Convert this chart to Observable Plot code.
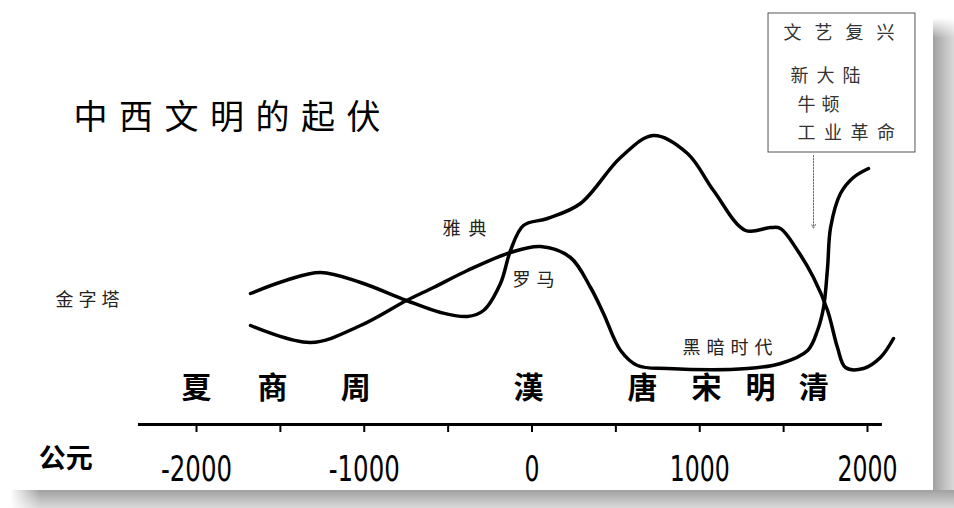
<!DOCTYPE html>
<html>
<head>
<meta charset="utf-8">
<script src="https://cdn.jsdelivr.net/npm/d3@7"></script>
<script src="https://cdn.jsdelivr.net/npm/@observablehq/plot@0.6"></script>
<style>
  html, body { margin: 0; padding: 0; background: white; }
  #wrap { position: relative; width: 954px; height: 508px; overflow: hidden; background: white; }
  #shadowR { position: absolute; left: 933px; top: 18px; width: 21px; height: 490px;
    background: linear-gradient(to right, #a0a0a0, #c4c4c4 60%, #d8d8d8); }
  #shadowB { position: absolute; left: 10px; top: 490px; width: 944px; height: 18px;
    background: linear-gradient(to bottom, #a0a0a0, #c4c4c4 60%, #d8d8d8); }
  #shadowR::before { content: ""; position: absolute; left: 0; top: 0; width: 21px; height: 20px;
    background: linear-gradient(to bottom, white, rgba(255,255,255,0)); }
  #shadowB::before { content: ""; position: absolute; left: 0; top: 0; width: 30px; height: 18px;
    background: linear-gradient(to right, white, rgba(255,255,255,0)); }
  #chart { position: absolute; left: 0; top: 0; }
</style>
</head>
<body>
<div id="wrap">
  <div id="shadowR"></div>
  <div id="shadowB"></div>
  <div id="chart"></div>
</div>
<script>
// ---- Data (years, relative civilisation level) ----
const chinaYear  = [-1678,-1469,-1261,-1022,-748,-545,-385,-289,-188,-128,-51,92,289,528,724,927,1082,1273,1422,1481,1583,1678,1762,1821,1869,1976,2077,2155];
const chinaLevel = [34.8,40,43.2,39.2,32,27.2,25.6,28,38.8,52,62,64.8,70.8,89.2,98,90.8,76,60,61.2,60.8,52,41.2,28,13.2,5.2,4.8,9.2,16.8];

const westYear  = [-1678,-1320,-1022,-748,-587,-385,-128,51,229,349,426,528,629,808,1285,1482,1643,1702,1738,1762,1780,1839,1916,2006];
const westLevel = [22,15.2,22,32,37.2,44,51.2,53.6,49.2,37.2,26.8,12,6,4.8,4.8,6.8,12,20,29.2,45.2,61.2,74.8,81.2,84.8];

const dynastyName = ["夏","商","周","漢","唐","宋","明","清"];
const dynastyYear = [-2000,-1547,-1050,-21,658,1040,1362,1680];

const tickYears = [-2000,-1500,-1000,-500,0,500,1000,1500,2000];
const labelYears = [-2000,-1000,0,1000,2000];

const noteText  = ["金字塔","雅典","罗马","黑暗时代"];
const noteYear  = [-2840,-534,-116,897];
const noteLevel = [32,60.4,40,12.8];

const boxText  = ["文艺复兴","新大陆","牛顿","工业革命"];
const boxYear  = [1499,1541,1583,1583];
const boxLevel = [138.8,121.6,110,98.8];

const titleText = "中西文明的起伏";
const eraText = "公元";

// ---- Build tables ----
const china = chinaYear.map((x, i) => ({x, y: chinaLevel[i]}));
const west  = westYear.map((x, i) => ({x, y: westLevel[i]}));
const dyn   = dynastyName.map((t, i) => ({t, x: dynastyYear[i]}));
const notes = noteText.map((t, i) => ({t, x: noteYear[i], y: noteLevel[i]}));
const box   = boxText.map((t, i) => ({t, x: boxYear[i], y: boxLevel[i]}));

const CJK = "'Noto Sans CJK SC', 'Noto Sans CJK TC', sans-serif";
const NARROW = "'Liberation Sans Narrow', 'Arial Narrow', 'DejaVu Sans Condensed', 'Liberation Sans', sans-serif";

const svg = Plot.plot({
  width: 954,
  height: 508,
  marginTop: 0, marginRight: 0, marginLeft: 0, marginBottom: 84,
  x: {domain: [-3168.5, 2518.7], axis: null},
  y: {domain: [-17.6, 152], axis: null},
  style: {background: "transparent", fontFamily: CJK, color: "black"},
  marks: [
    // annotation box
    Plot.rect([0], {x1: 1410, x2: 2286, y1: 91.2, y2: 146.8, fill: "white", stroke: "#555", strokeWidth: 1}),
    Plot.text(box, {x: "x", y: "y", text: "t", textAnchor: "start", fontSize: 18, fill: "#333"}),
    Plot.arrow([0], {x1: 1678, x2: 1678, y1: 90, y2: 61, stroke: "#666", strokeWidth: 1, strokeDasharray: "1.5,1.5", headLength: 6}),
    // curves
    Plot.line(china, {x: "x", y: "y", curve: "catmull-rom", stroke: "black", strokeWidth: 3.5}),
    Plot.line(west, {x: "x", y: "y", curve: "catmull-rom", stroke: "black", strokeWidth: 3.5}),
    // notes
    Plot.text(notes, {x: "x", y: "y", text: "t", textAnchor: "start", fontSize: 18, fill: "#222"}),
    // time axis
    Plot.ruleY([-17.6], {x1: -2346, x2: 2089, stroke: "black", strokeWidth: 3}),
    Plot.axisX({ticks: tickYears, tickSize: 8, strokeWidth: 2, tickPadding: 23, label: null,
      tickFormat: d => labelYears.includes(d) ? String(d) : "", fontSize: 36}),
    Plot.text(dyn, {x: "x", text: "t", frameAnchor: "bottom", dy: -27, fontSize: 30, fontWeight: "bold", fill: "black"}),
    Plot.text([eraText], {x: -2780, frameAnchor: "bottom", dy: 43, fontSize: 27, fontWeight: "bold", fill: "black"}),
    // title
    Plot.text([titleText], {frameAnchor: "top-left", dx: 73, dy: 104, textAnchor: "start", fontSize: 34, fill: "black"})
  ]
});

document.getElementById("chart").appendChild(svg);
const spacing = {"中西文明的起伏": 11.5, "文艺复兴": 13, "新大陆": 8, "牛顿": 6, "工业革命": 8.5,
  "金字塔": 5, "雅典": 8, "罗马": 6, "黑暗时代": 6};
d3.select(svg).selectAll("text").each(function() {
  const t = this.textContent;
  if (spacing[t] != null) this.setAttribute("letter-spacing", spacing[t]);
  if (/^-?\d+$/.test(t)) {
    this.style.fontFamily = NARROW;
    this.style.fontVariant = "normal";
    const digits = t.replace("-", "").length;
    this.setAttribute("textLength", 15 * digits + (t.startsWith("-") ? 11 : 0));
    this.setAttribute("lengthAdjust", "spacingAndGlyphs");
  }
});
</script>
</body>
</html>
